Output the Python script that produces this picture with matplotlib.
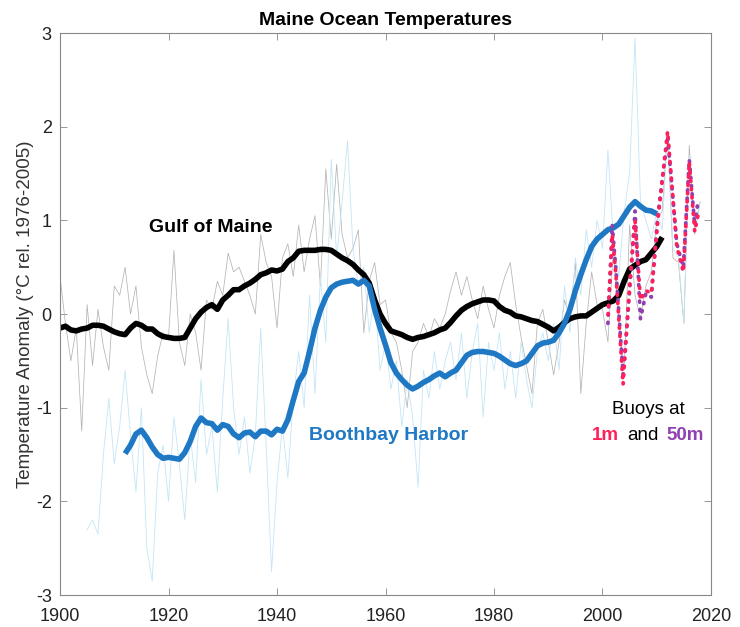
import numpy as np
import matplotlib
matplotlib.use('Agg')
import matplotlib.pyplot as plt

plt.rcParams['font.family'] = ['Liberation Sans', 'DejaVu Sans']
plt.rcParams['axes.unicode_minus'] = False

## annual Gulf of Maine anomaly (thin grey)
gom_years = np.arange(1900, 2019)
gom_annual = [0.40, -0.10, -0.50, -0.15, -1.25, 0.10, -0.55, 0.05, -0.35, -0.60,
              0.30, 0.20, 0.50, 0.00, 0.30, -0.35, -0.65, -0.85, -0.45, -0.20,
              -0.25, 0.68, -0.30, -0.55, 0.00, -0.20, -0.60, 0.15, 0.05, 0.35,
              0.20, 0.65, 0.45, 0.50, 0.35, 0.20, 0.00, 0.85, 0.55, 0.40,
              -0.15, 0.60, 0.75, 0.40, 0.95, 0.45, 0.80, 1.05, 0.30, 1.55,
              0.80, 1.60, 0.85, 0.60, 0.70, 0.90, -0.20, 0.35, 0.55, 0.10,
              0.15, -0.20, -0.30, -0.60, -1.00, -0.40, -0.30, -0.10, -0.25, -0.05,
              -0.15, 0.00, 0.25, 0.45, 0.20, 0.40, 0.15, -0.05, 0.30, 0.05,
              -0.15, 0.20, 0.40, 0.55, 0.10, -0.25, -0.55, -0.85, -0.10, 0.05,
              -0.30, -0.65, -0.30, 0.15, -0.05, 0.55, -0.85, -0.10, 0.45, 0.10,
              0.05, -0.30, 0.70, -0.10, -0.60, 0.95, 0.20, -0.05, 0.30, 0.45,
              1.00, 1.10, 1.95, 0.60, 0.55, -0.10, 1.80, 0.85, 1.20]

## annual Boothbay Harbor anomaly (thin light blue)
bbh_years = np.arange(1905, 2019)
bbh_annual = [-2.30, -2.20, -2.35, -1.50, -0.90,
              -1.60, -1.20, -0.60, -1.30, -1.90, -1.00, -2.50, -2.85, -1.70, -1.40,
              -2.00, -1.10, -1.60, -2.20, -1.30, -1.80, -0.70, -1.50, -1.20, -1.90,
              -0.90, -0.05, -1.00, -1.50, -1.10, -1.70, -1.30, -0.15, -1.40, -2.75,
              -1.80, -1.20, -1.75, -0.90, -0.40, -1.00, 0.20, -0.85, 0.40, -0.30,
              1.65, 0.60, 1.20, 1.85, 0.70, 0.30, 0.50, -0.20, 0.20, -0.60,
              -0.30, -0.80, -0.50, -1.20, -0.70, -1.10, -1.85, -0.60, -0.90, -0.40,
              -0.80, -0.50, -0.30, -0.70, -0.20, -0.90, -0.40, -0.10, -1.10, -0.30,
              -0.60, -0.20, -0.80, -0.40, -0.90, -0.30, -0.70, -1.00, -0.40, -0.20,
              -0.50, -0.10, -0.60, 0.30, -0.20, 0.60, 0.20, 0.90, 0.50, 1.00,
              0.70, 1.75, 0.80, 0.40, 1.10, 1.50, 2.95, 1.20, 1.00, 0.80,
              1.10, 0.90, 1.95, 0.70, 0.60, -0.10, 1.70, 0.95, 1.20]

## smoothed Gulf of Maine (thick black)
gom_s_years = np.arange(1900, 2012)
gom_smooth = [-0.15, -0.13, -0.17, -0.18, -0.16, -0.15, -0.12, -0.12, -0.13, -0.16,
              -0.19, -0.21, -0.22, -0.15, -0.10, -0.12, -0.16, -0.16, -0.21, -0.24,
              -0.25, -0.26, -0.26, -0.25, -0.15, -0.05, 0.02, 0.07, 0.10, 0.05,
              0.15, 0.20, 0.26, 0.26, 0.30, 0.33, 0.37, 0.42, 0.44, 0.47,
              0.46, 0.48, 0.56, 0.60, 0.67, 0.68, 0.68, 0.68, 0.69, 0.69,
              0.68, 0.64, 0.60, 0.57, 0.53, 0.47, 0.42, 0.33, 0.15, 0.00,
              -0.10, -0.18, -0.20, -0.22, -0.25, -0.27, -0.25, -0.24, -0.22, -0.20,
              -0.17, -0.15, -0.09, -0.02, 0.04, 0.08, 0.11, 0.13, 0.15, 0.15,
              0.14, 0.08, 0.04, 0.02, -0.02, -0.03, -0.05, -0.07, -0.08, -0.11,
              -0.14, -0.18, -0.14, -0.09, -0.05, -0.03, -0.02, -0.02, 0.02, 0.06,
              0.10, 0.12, 0.14, 0.20, 0.35, 0.48, 0.52, 0.56, 0.58, 0.65,
              0.72, 0.82]

## smoothed Boothbay Harbor (thick blue)
bbh_s_years = np.arange(1912, 2011)
bbh_smooth = [-1.49, -1.40, -1.28, -1.24, -1.32, -1.42, -1.50, -1.54,
              -1.53, -1.54, -1.55, -1.48, -1.36, -1.20, -1.11, -1.16, -1.17, -1.24,
              -1.18, -1.20, -1.28, -1.32, -1.27, -1.26, -1.31, -1.25, -1.25, -1.29,
              -1.23, -1.25, -1.13, -0.92, -0.72, -0.63, -0.40, -0.15, 0.04, 0.18,
              0.28, 0.32, 0.34, 0.35, 0.36, 0.32, 0.36, 0.30, 0.05, -0.15,
              -0.33, -0.52, -0.63, -0.70, -0.76, -0.80, -0.77, -0.73, -0.70, -0.66,
              -0.63, -0.67, -0.63, -0.60, -0.52, -0.44, -0.41, -0.40, -0.40, -0.41,
              -0.42, -0.45, -0.49, -0.53, -0.55, -0.53, -0.50, -0.42, -0.34, -0.31,
              -0.30, -0.28, -0.20, -0.10, 0.05, 0.25, 0.42, 0.58, 0.72, 0.80,
              0.85, 0.90, 0.92, 0.96, 1.05, 1.14, 1.20, 1.15, 1.11, 1.10,
              1.07]

## buoys
buoy_t = [2001.0, 2001.8, 2002.5, 2003.8, 2005.0, 2006.0, 2007.0, 2008.0,
          2009.0, 2010.2, 2012.0, 2013.7, 2014.9, 2016.0, 2017.0, 2017.6]
buoy_1m = [-0.05, 0.85, 0.40, -0.75, 0.30, 1.00, 0.15, 0.25,
           0.22, 1.00, 1.95, 0.72, 0.45, 1.62, 0.88, 1.05]
buoy_50m = [-0.10, 0.95, 0.45, -0.65, 0.25, 1.10, -0.05, 0.22,
            0.18, 1.05, 1.90, 0.75, 0.50, 1.65, 0.95, 1.20]

col_blue = '#1f78c4'
col_red = '#ff1f5a'
col_purple = '#9040b0'

fig = plt.figure(figsize=(7.4, 6.27), dpi=100)
ax = fig.add_axes([0.0811, 0.051, 0.8797, 0.8963])

ax.plot(gom_years, gom_annual, color='#b4b4b4', lw=0.55)
ax.plot(bbh_years, bbh_annual, color='#c4e5f7', lw=0.6)
ax.plot(gom_s_years, gom_smooth, color='black', lw=4, solid_capstyle='butt')
ax.plot(bbh_s_years, bbh_smooth, color=col_blue, lw=4, solid_capstyle='butt')
ax.plot(buoy_t, buoy_50m, color=col_purple, lw=2.7, ls=(0, (0.3, 1.9)), dash_capstyle='round')
ax.plot(buoy_t, buoy_1m, color=col_red, lw=2.7, ls=(1.1, (0.3, 1.9)), dash_capstyle='round')

ax.set_xlim(1900, 2020)
ax.set_ylim(-3, 3)
ax.set_xticks(np.arange(1900, 2021, 20))
ax.set_yticks(np.arange(-3, 4, 1))
ax.tick_params(direction='in', top=True, right=True, length=5, width=0.6,
               color='#888888', labelsize=13, labelcolor='#222222')
ax.tick_params(axis='x', pad=9)
ax.tick_params(axis='y', pad=6)
for s in ax.spines.values():
    s.set_color('#888888')
    s.set_linewidth(0.8)

ax.set_title('Maine Ocean Temperatures', fontsize=14, fontweight='bold', pad=6)
ax.set_ylabel('Temperature Anomaly (°C rel. 1976-2005)', fontsize=13.5, color='#333333', labelpad=1)

ax.text(1927.8, 0.92, 'Gulf of Maine', fontsize=14, fontweight='bold', color='black', ha='center', va='center')
ax.text(1960.5, -1.30, 'Boothbay Harbor', fontsize=14, fontweight='bold', color=col_blue, ha='center', va='center')
ax.text(2008.4, -1.02, 'Buoys at', fontsize=13.5, color='black', ha='center', va='center')
ax.text(2000.6, -1.30, '1m', fontsize=13.5, fontweight='bold', color=col_red, ha='center', va='center')
ax.text(2007.5, -1.30, 'and', fontsize=13.5, color='black', ha='center', va='center')
ax.text(2015.2, -1.30, '50m', fontsize=13.5, fontweight='bold', color=col_purple, ha='center', va='center')

fig.savefig('out.png', dpi=100)
